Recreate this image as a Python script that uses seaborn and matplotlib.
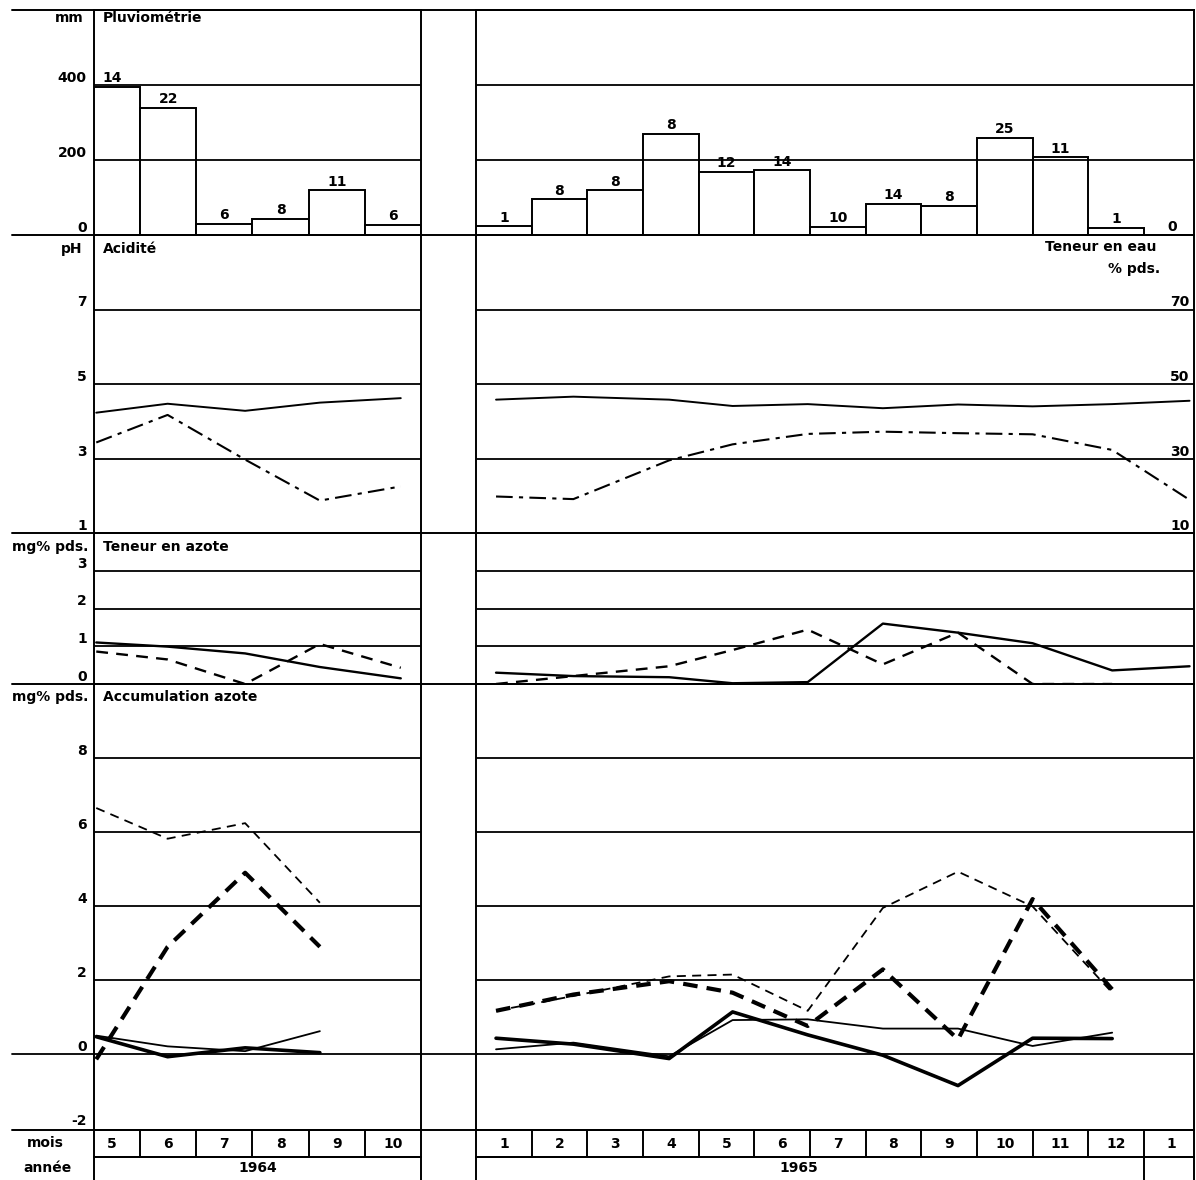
import numpy as np
import matplotlib
matplotlib.use('Agg')
import matplotlib.pyplot as plt
import matplotlib.transforms as mtransforms
from matplotlib.lines import Line2D
import seaborn as sns

# --- Pluviometrie: monthly rain (mm) and number of rainy days (bar labels)
mois_64 = [5, 6, 7, 8, 9, 10]
pluie_64 = [395, 339, 30, 43, 120, 28]
jours_64 = [14, 22, 6, 8, 11, 6]
mois_65 = [1, 2, 3, 4, 5, 6, 7, 8, 9, 10, 11, 12, 13]
pluie_65 = [24, 95, 120, 270, 169, 173, 22, 83, 78, 259, 207, 19, 0]
jours_65 = [1, 8, 8, 8, 12, 14, 10, 14, 8, 25, 11, 1, 0]
lbl_mois_64 = ['5', '6', '7', '8', '9', '10']
lbl_mois_65 = ['1', '2', '3', '4', '5', '6', '7', '8', '9', '10', '11', '12', '1']

# sampling dates, as position on the month axis
prel_64 = [4.72, 5.99, 7.37, 8.70, 10.14]
prel_65 = [0.86, 2.25, 3.97, 5.11, 6.46, 7.81, 9.16, 10.50, 11.93, 13.32]

# --- Acidite (pH) and teneur en eau (% pds.)
ph_64 = [4.23, 4.47, 4.28, 4.50, 4.62]
eau_64 = [34.3, 41.7, 29.7, 18.7, 22.5]
ph_65 = [4.58, 4.66, 4.58, 4.41, 4.46, 4.35, 4.45, 4.40, 4.46, 4.55]
eau_65 = [19.8, 19.1, 29.5, 33.8, 36.6, 37.2, 36.8, 36.5, 32.3, 18.9]

# --- Teneur en azote (mg% pds.)
az_plein_64 = [1.10, 0.99, 0.81, 0.45, 0.15]
az_tiret_64 = [0.86, 0.65, 0.00, 1.06, 0.43]
az_plein_65 = [0.30, 0.21, 0.18, 0.02, 0.05, 1.60, 1.36, 1.08, 0.36, 0.47]
az_tiret_65 = [0.00, 0.21, 0.47, 0.90, 1.44, 0.52, 1.36, 0.00, 0.00]

# --- Accumulation azote (mg% pds.)
acc_tiret_fin_64 = [6.65, 5.82, 6.24, 4.09]
acc_tiret_gras_64 = [-0.14, 2.90, 4.90, 2.90]
acc_plein_gras_64 = [0.47, -0.07, 0.17, 0.04]
acc_plein_fin_64 = [0.50, 0.21, 0.08, 0.62]
acc_tiret_fin_65 = [1.17, 1.57, 2.10, 2.15, 1.17, 3.95, 4.93, 3.99, 1.66]
acc_tiret_gras_65 = [1.17, 1.61, 1.97, 1.66, 0.76, 2.29, 0.40, 4.19, 1.75]
acc_plein_gras_65 = [0.43, 0.27, -0.12, 1.14, 0.52, -0.03, -0.85, 0.43, 0.42]
acc_plein_fin_65 = [0.13, 0.31, -0.06, 0.92, 0.94, 0.69, 0.69, 0.22, 0.58]

sns.set_style('white')
plt.rcParams['font.family'] = ['DejaVu Sans']
plt.rcParams['font.weight'] = 'bold'
plt.rcParams['text.color'] = 'black'

W, H = 1196, 1180
LW = 1.4
FS = 10
fig = plt.figure(figsize=(W / 100, H / 100), dpi=100)

cols = [(94, 421), (476, 1194)]
xlims = [(4.68, 10.5), (0.5, 13.4)]
rows = {'pluie': (10, 235), 'ph': (235, 533), 'azote': (533, 684),
        'accu': (684, 1130), 'mois': (1130, 1157), 'annee': (1157, 1180)}


def new_ax(row, col):
    (y0, y1), (x0, x1) = rows[row], cols[col]
    return fig.add_axes([x0 / W, 1 - y1 / H, (x1 - x0) / W, (y1 - y0) / H])


def finish(ax, col, ylim, grid=(), ticklen=0):
    ax.set_xlim(xlims[col])
    ax.set_ylim(ylim)
    ax.set_xticks([])
    ax.set_yticks(list(grid))
    ax.tick_params(axis='y', length=ticklen, width=1.3, direction='out',
                   color='black', labelleft=False)
    if grid:
        ax.grid(axis='y', color='black', linewidth=1.3)
        ax.set_axisbelow(False)
    ax.set_xlabel('')
    ax.set_ylabel('')
    for s in ax.spines.values():
        s.set_color('black')
        s.set_linewidth(LW)
    ax.patch.set_alpha(0)


def left_ticks(ax, vals):
    tr = mtransforms.blended_transform_factory(ax.transAxes, ax.transData)
    for v in vals:
        ax.text(-0.022, v, str(v), transform=tr, ha='right', va='bottom',
                fontsize=FS, fontweight='bold', clip_on=False)


def line(ax, x, y, lw, ls):
    sns.lineplot(x=x, y=y, ax=ax, color='black', linewidth=lw, linestyle=ls, legend=False)


dash = (0, (5, 3.5))
dash_gras = (0, (3.5, 2.2))
dashdot = (0, (8, 3, 2, 3))

# ---------------- Pluviometrie
for col, (mois, pluie, jours) in enumerate([(mois_64, pluie_64, jours_64),
                                            (mois_65, pluie_65, jours_65)]):
    ax = new_ax('pluie', col)
    sns.barplot(x=mois, y=pluie, native_scale=True, width=1.0, color='white',
                saturation=1, edgecolor='black', linewidth=1.4, errorbar=None, ax=ax)
    lbls = [str(j) for j in jours]
    ax.bar_label(ax.containers[0], labels=lbls, padding=1,
                 fontsize=FS, fontweight='bold', color='black')
    finish(ax, col, (0, 600), grid=(200, 400), ticklen=6)
    if col == 0:
        left_ticks(ax, [400, 200, 0])
        ax.text(0.028, 0.964, 'Pluviométrie', transform=ax.transAxes,
                ha='left', va='center', fontsize=FS)

# ---------------- Acidite / teneur en eau
for col, (x, ph, eau) in enumerate([(prel_64, ph_64, eau_64), (prel_65, ph_65, eau_65)]):
    ax = new_ax('ph', col)
    line(ax, x, ph, 1.4, '-')
    line(ax, x, np.array(eau) / 10, 1.5, dashdot)
    finish(ax, col, (1, 9), grid=(3, 5, 7))
    if col == 0:
        left_ticks(ax, [7, 5, 3, 1])
        ax.text(0.028, 0.953, 'Acidité', transform=ax.transAxes,
                ha='left', va='center', fontsize=FS)
    else:
        tr = mtransforms.blended_transform_factory(ax.transAxes, ax.transData)
        for w in [70, 50, 30, 10]:
            ax.text(0.994, w / 10, str(w), transform=tr, ha='right', va='bottom',
                    fontsize=FS, fontweight='bold')
        ax.text(0.948, 0.96, 'Teneur en eau', transform=ax.transAxes,
                ha='right', va='center', fontsize=FS)
        ax.text(0.953, 0.886, '% pds.', transform=ax.transAxes,
                ha='right', va='center', fontsize=FS)

# ---------------- Teneur en azote
for col, (x, plein, tiret) in enumerate([(prel_64, az_plein_64, az_tiret_64),
                                         (prel_65, az_plein_65, az_tiret_65)]):
    ax = new_ax('azote', col)
    line(ax, x[:len(plein)], plein, 1.7, '-')
    line(ax, x[:len(tiret)], tiret, 1.7, dash)
    finish(ax, col, (0, 4), grid=(1, 2, 3))
    if col == 0:
        left_ticks(ax, [3, 2, 1, 0])
        ax.text(0.028, 0.907, 'Teneur en azote', transform=ax.transAxes,
                ha='left', va='center', fontsize=FS)

# ---------------- Accumulation azote
acc = [(prel_64, acc_tiret_fin_64, acc_tiret_gras_64, acc_plein_gras_64, acc_plein_fin_64),
       (prel_65, acc_tiret_fin_65, acc_tiret_gras_65, acc_plein_gras_65, acc_plein_fin_65)]
for col, (x, tf, tg, pg, pf) in enumerate(acc):
    ax = new_ax('accu', col)
    n = len(tf)
    line(ax, x[:n], tf, 1.3, dash)
    line(ax, x[:n], tg, 3.0, dash_gras)
    line(ax, x[:n], pg, 2.6, '-')
    line(ax, x[:n], pf, 1.3, '-')
    finish(ax, col, (-2.05, 10), grid=(2, 4, 6, 8))
    if col == 0:
        left_ticks(ax, [8, 6, 4, 2, 0, -2])
        ax.text(0.028, 0.971, 'Accumulation azote', transform=ax.transAxes,
                ha='left', va='center', fontsize=FS)
        ax.axhline(0, xmin=-0.25, xmax=1.17, color='black', linewidth=1.3, clip_on=False)
    else:
        ax.axhline(0, color='black', linewidth=1.3)

# ---------------- mois / annee rows
for col, (mois, lbls) in enumerate([(mois_64, lbl_mois_64), (mois_65, lbl_mois_65)]):
    ax = new_ax('mois', col)
    ax.vlines([m + 0.5 for m in mois[:-1]], 0, 1, color='black', linewidth=LW)
    for m, t in zip(mois, lbls):
        ax.text(m, 0.5, t, ha='center', va='center', fontsize=FS)
    finish(ax, col, (0, 1))

    ax = new_ax('annee', col)
    finish(ax, col, (0, 1))
    ax.spines['bottom'].set_visible(False)
    if col == 0:
        ax.text(0.5, 0.5, '1964', transform=ax.transAxes, ha='center', va='center', fontsize=FS)
    else:
        ax.vlines([12.5], 0, 1, color='black', linewidth=LW)
        ax.text(6.3, 0.5, '1965', ha='center', va='center', fontsize=FS)

# ---------------- row separators and left label column
for y in [10, 235, 533, 684, 1130]:
    fig.add_artist(Line2D([12 / W, 1194 / W], [1 - y / H] * 2, transform=fig.transFigure,
                          color='black', linewidth=LW))

for txt, x, y, ha in [('mm', 84, 18, 'right'), ('pH', 82, 249, 'right'),
                      ('mg% pds.', 88, 547, 'right'), ('mg% pds.', 88, 697, 'right'),
                      ('mois', 45, 1143, 'center'), ('année', 47, 1168, 'center')]:
    fig.text(x / W, 1 - y / H, txt, ha=ha, va='center', fontsize=FS, fontweight='bold')

fig.savefig('out.png', dpi=100)
